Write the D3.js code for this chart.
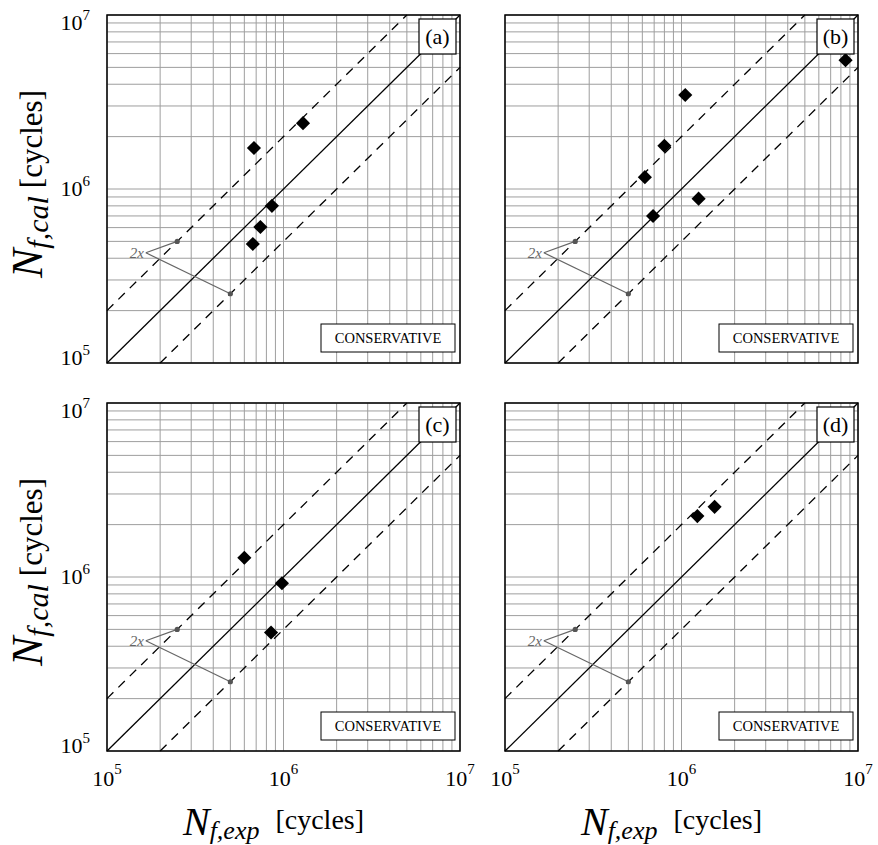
<!DOCTYPE html>
<html lang="en">
<head>
<meta charset="UTF-8">
<title>N_f,cal vs N_f,exp</title>
<script src="https://cdn.jsdelivr.net/npm/d3@7/dist/d3.min.js"></script>
<style>
    body { margin: 0; background: #fff; }
    svg { display: block; }
    svg text { font-family: 'Liberation Serif', 'Times New Roman', serif; }
    .grid line { stroke: #9e9e9e; stroke-width: 1; }
    .frame { fill: none; stroke: #000; stroke-width: 1.5; }
</style>
</head>
<body>
<script>
    const width = 878;
    const height = 845;

    // 各子图的数据 (N_f,exp , N_f,cal)
    const panelNames = ['(a)', '(b)', '(c)', '(d)'];
    const expA = [1.29e6, 6.8e5, 8.6e5, 7.4e5, 6.7e5];
    const calA = [2.39e6, 1.72e6, 8.0e5, 6.05e5, 4.83e5];
    const expB = [8.5e6, 1.05e6, 8.0e5, 6.2e5, 6.9e5, 1.25e6];
    const calB = [5.5e6, 3.47e6, 1.77e6, 1.17e6, 7.0e5, 8.8e5];
    const expC = [6.0e5, 9.8e5, 8.5e5];
    const calC = [1.29e6, 9.2e5, 4.8e5];
    const expD = [1.23e6, 1.54e6];
    const calD = [2.24e6, 2.53e6];
    const panelExp = [expA, expB, expC, expD];
    const panelCal = [calA, calB, calC, calD];

    const domain = [1e5, 1e7];
    const tickValues = [1e5, 1e6, 1e7];
    const tickExponents = ['5', '6', '7'];
    const bandRatios = [0.5, 1, 2];        // y = x/2, y = x, y = 2x
    const notePointsExp = [2.5e5, 5e5];    // "2x" 标注指向的点
    const notePointsCal = [5e5, 2.5e5];
    const noteVertex = [1.66e5, 4.3e5];

    // 布局
    const panelLeft = [107, 505];
    const panelTop = [15, 403];
    const panelW = 353;
    const panelH = 348;
    const serif = "'Liberation Serif', 'Times New Roman', serif";

    const svg = d3.select('body')
        .append('svg')
        .attr('width', width)
        .attr('height', height)
        .attr('font-family', serif);

    panelNames.forEach((name, i) => drawPanel(i));

    function drawPanel(i) {
        const col = i % 2;
        const row = Math.floor(i / 2);
        const left = panelLeft[col];
        const top = panelTop[row];

        const x = d3.scaleLog().domain(domain).range([left, left + panelW]);
        const y = d3.scaleLog().domain(domain).range([top + panelH, top]);

        const g = svg.append('g');

        // 网格
        const grid = g.append('g').attr('class', 'grid');
        grid.selectAll('.vx')
            .data(x.ticks())
            .enter()
            .append('line')
            .attr('x1', d => x(d)).attr('x2', d => x(d))
            .attr('y1', top).attr('y2', top + panelH);
        grid.selectAll('.hy')
            .data(y.ticks())
            .enter()
            .append('line')
            .attr('y1', d => y(d)).attr('y2', d => y(d))
            .attr('x1', left).attr('x2', left + panelW);

        // 1:1 和 2 倍分散带
        g.selectAll('.band')
            .data(bandRatios)
            .enter()
            .append('line')
            .attr('x1', r => x(Math.max(domain[0], domain[0] / r)))
            .attr('y1', r => y(Math.max(domain[0], domain[0] / r) * r))
            .attr('x2', r => x(Math.min(domain[1], domain[1] / r)))
            .attr('y2', r => y(Math.min(domain[1], domain[1] / r) * r))
            .attr('stroke', '#000')
            .attr('stroke-width', 1.3)
            .attr('stroke-dasharray', r => r === 1 ? null : '9,7');

        // "2x" 标注
        const vx = x(noteVertex[0]);
        const vy = y(noteVertex[1]);
        g.selectAll('.note-line')
            .data(notePointsExp)
            .enter()
            .append('line')
            .attr('x1', vx).attr('y1', vy)
            .attr('x2', d => x(d))
            .attr('y2', (d, k) => y(notePointsCal[k]))
            .attr('stroke', '#666')
            .attr('stroke-width', 1.2);
        g.selectAll('.note-dot')
            .data(notePointsExp)
            .enter()
            .append('circle')
            .attr('cx', d => x(d))
            .attr('cy', (d, k) => y(notePointsCal[k]))
            .attr('r', 2.6)
            .attr('fill', '#555');
        g.append('text')
            .attr('x', vx - 2)
            .attr('y', vy + 5)
            .attr('text-anchor', 'end')
            .attr('font-style', 'italic')
            .attr('font-size', 15)
            .attr('fill', '#666')
            .text('2x');

        // 数据点 (菱形)
        const diamond = d3.symbol().type(d3.symbolSquare).size(100);
        g.selectAll('.pt')
            .data(panelExp[i])
            .enter()
            .append('path')
            .attr('d', diamond)
            .attr('transform', (d, k) => 'translate(' + x(d) + ',' + y(panelCal[i][k]) + ') rotate(45)')
            .attr('fill', '#000');

        // CONSERVATIVE 框
        const cw = 134, ch = 28;
        const cx0 = left + panelW - 5 - cw;
        const cy0 = top + panelH - 11 - ch;
        g.append('rect')
            .attr('x', cx0).attr('y', cy0)
            .attr('width', cw).attr('height', ch)
            .attr('fill', '#fff')
            .attr('stroke', '#000')
            .attr('stroke-width', 1);
        g.append('text')
            .attr('x', cx0 + cw / 2)
            .attr('y', cy0 + ch / 2 + 5)
            .attr('text-anchor', 'middle')
            .attr('font-size', 14.5)
            .text('CONSERVATIVE');

        // 子图编号框
        const bw = 37, bh = 35;
        const bx = left + panelW - 4 - bw;
        const by = top + 4;
        g.append('line')
            .attr('x1', bx + bw).attr('y1', by)
            .attr('x2', left + panelW).attr('y2', top)
            .attr('stroke', '#000').attr('stroke-width', 1);
        g.append('rect')
            .attr('x', bx).attr('y', by)
            .attr('width', bw).attr('height', bh)
            .attr('fill', '#fff')
            .attr('stroke', '#000')
            .attr('stroke-width', 1.2);
        g.append('text')
            .attr('x', bx + bw / 2)
            .attr('y', by + bh / 2 + 7)
            .attr('text-anchor', 'middle')
            .attr('font-size', 22)
            .text(panelNames[i]);

        // 边框
        g.append('rect')
            .attr('class', 'frame')
            .attr('x', left).attr('y', top)
            .attr('width', panelW).attr('height', panelH);

        // 纵轴刻度
        if (col === 0) {
            const yShift = [2, 7, 15];
            const yl = g.selectAll('.ytl')
                .data(tickValues)
                .enter()
                .append('text')
                .attr('x', left - 17)
                .attr('y', (d, k) => y(d) + yShift[k])
                .attr('text-anchor', 'end')
                .attr('font-size', 22);
            yl.append('tspan').text('10');
            yl.append('tspan')
                .attr('font-size', 15)
                .attr('dy', -10)
                .text((d, k) => tickExponents[k]);

            // 纵轴标题
            const yt = g.append('text')
                .attr('transform', 'translate(42,' + (top + panelH / 2 - 5) + ') rotate(-90)')
                .attr('text-anchor', 'middle');
            yt.append('tspan').attr('font-style', 'italic').attr('font-size', 44).text('N');
            yt.append('tspan').attr('font-style', 'italic').attr('font-size', 30).attr('dy', 6).text('f,cal');
            yt.append('tspan').attr('font-size', 31).attr('dy', -6).attr('dx', 8).text('[cycles]');
        }

        // 横轴刻度
        if (row === 1) {
            const xl = g.selectAll('.xtl')
                .data(tickValues)
                .enter()
                .append('text')
                .attr('x', d => x(d))
                .attr('y', top + panelH + 35)
                .attr('text-anchor', 'middle')
                .attr('font-size', 22);
            xl.append('tspan').text('10');
            xl.append('tspan')
                .attr('font-size', 15)
                .attr('dy', -12)
                .text((d, k) => tickExponents[k]);

            // 横轴标题
            const xt = g.append('text')
                .attr('x', left + panelW / 2 - 10)
                .attr('y', 835)
                .attr('text-anchor', 'middle');
            xt.append('tspan').attr('font-style', 'italic').attr('font-size', 40).text('N');
            xt.append('tspan').attr('font-style', 'italic').attr('font-size', 26).attr('dy', 4).text('f,exp');
            xt.append('tspan').attr('font-size', 28).attr('dy', -10).attr('dx', 16).text('[cycles]');
        }
    }
</script>
</body>
</html>
